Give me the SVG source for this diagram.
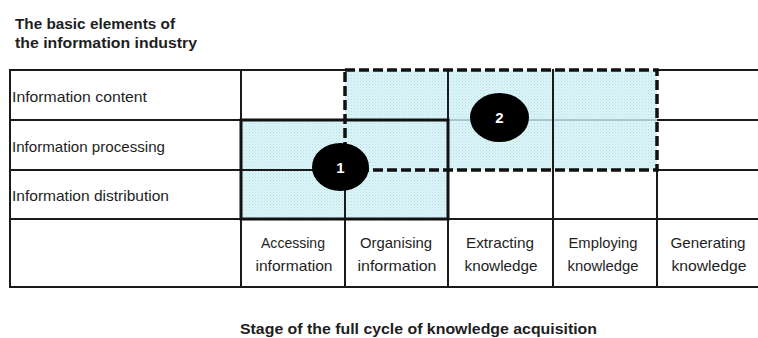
<svg xmlns="http://www.w3.org/2000/svg" width="758" height="338" viewBox="0 0 758 338">
<style>
  .t { font-family: "Liberation Sans", Arial, sans-serif; fill: #1e1e1e; }
  .b { font-weight: bold; }
  .lbl { font-size: 15px; }
  .col { font-size: 15px; text-anchor: middle; }
  .grid { stroke: #1a1a1a; stroke-width: 2; fill: none; }
  .num { font-family: "Liberation Sans", Arial, sans-serif; font-weight: bold; font-size: 15px; fill: #ffffff; text-anchor: middle; }
</style>
<defs>
  <pattern id="dots" width="3" height="3" patternUnits="userSpaceOnUse">
    <rect width="3" height="3" fill="#dcf5f8"/>
    <rect x="0" y="0" width="1" height="1" fill="#b5dde4"/>
    <rect x="1.5" y="1.5" width="1" height="1" fill="#c4e6ec"/>
  </pattern>
</defs>
<rect width="758" height="338" fill="#ffffff"/>

<g id="title">
  <text class="t b" x="15" y="29" font-size="15" textLength="160" lengthAdjust="spacingAndGlyphs">The basic elements of</text>
  <text class="t b" x="15" y="48" font-size="15" textLength="182" lengthAdjust="spacingAndGlyphs">the information industry</text>
</g>

<g id="region-fills">
  <rect x="241" y="120" width="207" height="99" fill="url(#dots)"/>
  <rect x="345" y="70" width="312" height="100" fill="url(#dots)"/>
</g>

<g id="table-grid">
  <line class="grid" x1="10" y1="70" x2="345" y2="70"/>
  <line class="grid" x1="657" y1="70" x2="758" y2="70"/>
  <line class="grid" x1="10" y1="120" x2="448" y2="120"/>
  <line x1="448" y1="120" x2="657" y2="120" stroke="#7f9ea3" stroke-width="1.2"/>
  <line class="grid" x1="657" y1="120" x2="758" y2="120"/>
  <line class="grid" x1="10" y1="170" x2="345" y2="170"/>
  <line class="grid" x1="657" y1="170" x2="758" y2="170"/>
  <line class="grid" x1="10" y1="219" x2="758" y2="219"/>
  <line class="grid" x1="10" y1="287" x2="758" y2="287"/>
  <line class="grid" x1="10" y1="69" x2="10" y2="288"/>
  <line class="grid" x1="241" y1="69" x2="241" y2="288"/>
  <line class="grid" x1="345" y1="170" x2="345" y2="288"/>
  <line class="grid" x1="448" y1="69" x2="448" y2="288"/>
  <line class="grid" x1="553" y1="69" x2="553" y2="288"/>
  <line class="grid" x1="657" y1="170" x2="657" y2="288"/>
</g>

<g id="region-1">
  <rect x="241" y="120" width="207" height="99" fill="none" stroke="#111" stroke-width="3"/>
</g>

<g id="region-2">
  <rect x="345" y="70" width="312" height="100" fill="none" stroke="#111" stroke-width="3.5" stroke-dasharray="10 4"/>
</g>

<g id="row-labels">
  <text class="t lbl" x="12" y="102" textLength="135" lengthAdjust="spacingAndGlyphs">Information content</text>
  <text class="t lbl" x="12" y="152" textLength="153" lengthAdjust="spacingAndGlyphs">Information processing</text>
  <text class="t lbl" x="12" y="201" textLength="157" lengthAdjust="spacingAndGlyphs">Information distribution</text>
</g>

<g id="col-accessing">
  <text class="t col" x="293" y="248" textLength="64" lengthAdjust="spacingAndGlyphs">Accessing</text>
  <text class="t col" x="294" y="271" textLength="77" lengthAdjust="spacingAndGlyphs">information</text>
</g>
<g id="col-organising">
  <text class="t col" x="396" y="248" textLength="72" lengthAdjust="spacingAndGlyphs">Organising</text>
  <text class="t col" x="397" y="271" textLength="79" lengthAdjust="spacingAndGlyphs">information</text>
</g>
<g id="col-extracting">
  <text class="t col" x="500" y="248" textLength="68" lengthAdjust="spacingAndGlyphs">Extracting</text>
  <text class="t col" x="501" y="271" textLength="73" lengthAdjust="spacingAndGlyphs">knowledge</text>
</g>
<g id="col-employing">
  <text class="t col" x="603" y="248" textLength="69" lengthAdjust="spacingAndGlyphs">Employing</text>
  <text class="t col" x="603" y="271" textLength="71" lengthAdjust="spacingAndGlyphs">knowledge</text>
</g>
<g id="col-generating">
  <text class="t col" x="708" y="248" textLength="75" lengthAdjust="spacingAndGlyphs">Generating</text>
  <text class="t col" x="709" y="271" textLength="75" lengthAdjust="spacingAndGlyphs">knowledge</text>
</g>

<g id="marker-1">
  <ellipse cx="340.5" cy="167" rx="28.5" ry="24" fill="#000"/>
  <text class="num" x="340.5" y="172.5">1</text>
</g>
<g id="marker-2">
  <ellipse cx="499.5" cy="117.5" rx="29.5" ry="24.5" fill="#000"/>
  <text class="num" x="499.5" y="123">2</text>
</g>

<g id="connectors"></g>

<g id="caption">
  <text class="t b" x="240" y="334" font-size="15" textLength="357" lengthAdjust="spacingAndGlyphs">Stage of the full cycle of knowledge acquisition</text>
</g>
</svg>
